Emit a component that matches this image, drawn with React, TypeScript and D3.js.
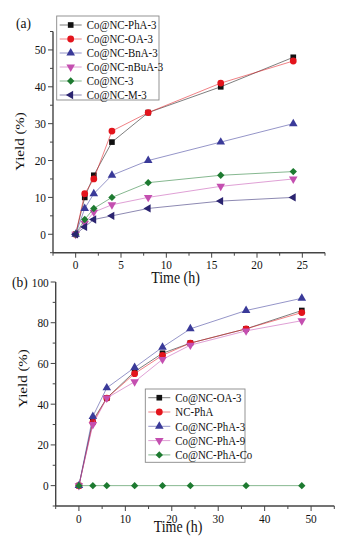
import { useRef, useEffect } from 'react';
import * as d3 from 'd3';

// panel (a): yield vs time for the amine-derived catalysts
const timesA = [0, 1, 2, 4, 8, 16, 24];
const namesA = ['Co@NC-PhA-3', 'Co@NC-OA-3', 'Co@NC-BnA-3', 'Co@NC-nBuA-3', 'Co@NC-3', 'Co@NC-M-3'];
const phA3 = [0, 10, 16, 25, 33, 40, 48];
const oa3 = [0, 11, 15, 28, 33, 41, 47];
const bnA3 = [0, 7, 11, 16, 20, 25, 30];
const nBuA3 = [0, 3, 6, 8, 10, 13, 15];
const nc3 = [0, 4, 7, 10, 14, 16, 17];
const m3 = [0, 2, 4, 5, 7, 9, 10];

// panel (b)
const timesB = [0, 3, 6, 12, 18, 24, 36, 48];
const namesB = ['Co@NC-OA-3', 'NC-PhA', 'Co@NC-PhA-3', 'Co@NC-PhA-9', 'Co@NC-PhA-Co'];
const oa3B = [0, 32, 43, 56, 65, 70, 77, 86];
const ncPhA = [0, 31, 43, 55, 64, 70, 77, 85];
const phA3B = [0, 34, 48, 58, 68, 77, 86, 92];
const phA9 = [0, 30, 43, 51, 62, 69, 76, 81];
const phACo = [0, 0, 0, 0, 0, 0, 0, 0];

const black = '#111111';
const red = '#e3141c';
const blue = '#3a3a99';
const magenta = '#c44fb0';
const green = '#1d7a30';
const navy = '#2b2470';

const FONT = '"Liberation Serif", "Times New Roman", serif';
const SX = 0.87;

function App() {
  const svgRef = useRef(null);
  const width = 351;
  const height = 547;

  useEffect(() => {
    const svg = d3.select(svgRef.current);
    svg.selectAll('*').remove();

    const txt = (g, x, y, s, size, anchor = 'start', rot = 0) =>
      g
        .append('text')
        .attr('transform', `translate(${x},${y}) rotate(${rot}) scale(${rot ? 1 : SX},${rot ? SX : 1})`)
        .attr('font-family', FONT)
        .attr('font-size', size)
        .attr('text-anchor', anchor)
        .attr('fill', '#111')
        .text(s);

    const symbols = {
      square: { type: d3.symbolSquare, size: 32, rot: 0 },
      circle: { type: d3.symbolCircle, size: 36, rot: 0 },
      up: { type: d3.symbolTriangle, size: 32, rot: 0 },
      down: { type: d3.symbolTriangle, size: 32, rot: 180 },
      diamond: { type: d3.symbolSquare, size: 27, rot: 45 },
      left: { type: d3.symbolTriangle, size: 30, rot: -90 },
    };

    const marker = (g, x, y, shape, color) => {
      const s = symbols[shape];
      g.append('path')
        .attr('d', d3.symbol().type(s.type).size(s.size)())
        .attr('transform', `translate(${x},${y}) rotate(${s.rot})`)
        .attr('fill', color);
    };

    function panel(cfg) {
      const { xDomain, xRange, yDomain, yRange, xMajor, xMinor, yMajor, yMinor, series, times, legend } = cfg;
      const x = d3.scaleLinear().domain(xDomain).range(xRange);
      const y = d3.scaleLinear().domain(yDomain).range(yRange);
      const g = svg.append('g');
      const axisColor = '#444';

      // axes
      g.append('line')
        .attr('x1', x(xDomain[0])).attr('x2', x(xDomain[1]))
        .attr('y1', y(yDomain[0])).attr('y2', y(yDomain[0]))
        .attr('stroke', axisColor).attr('stroke-width', 1.4);
      g.append('line')
        .attr('x1', x(xDomain[0])).attr('x2', x(xDomain[0]))
        .attr('y1', y(yDomain[0])).attr('y2', y(yDomain[1]))
        .attr('stroke', axisColor).attr('stroke-width', 1.4);

      const xTicks = d3.range(xDomain[0], xDomain[1] + 0.001, xMinor);
      xTicks.forEach((t) => {
        const major = Math.abs(t / xMajor - Math.round(t / xMajor)) < 1e-6;
        g.append('line')
          .attr('x1', x(t)).attr('x2', x(t))
          .attr('y1', y(yDomain[0])).attr('y2', y(yDomain[0]) + (major ? 5 : 3))
          .attr('stroke', axisColor).attr('stroke-width', 1);
        if (major && t >= 0) txt(g, x(t), y(yDomain[0]) + 16.5, String(t), 13, 'middle');
      });

      const yTicks = d3.range(yDomain[0], yDomain[1] + 0.001, yMinor);
      yTicks.forEach((t) => {
        const major = Math.abs(t / yMajor - Math.round(t / yMajor)) < 1e-6;
        g.append('line')
          .attr('x1', x(xDomain[0])).attr('x2', x(xDomain[0]) - (major ? 5 : 3))
          .attr('y1', y(t)).attr('y2', y(t))
          .attr('stroke', axisColor).attr('stroke-width', 1);
        if (major && t >= 0) txt(g, x(xDomain[0]) - 7, y(t) + 4.5, String(t), 13, 'end');
      });

      // series
      const line = d3.line().x((d) => x(d[0])).y((d) => y(d[1]));
      series.forEach((s) => {
        const pts = times.map((t, i) => [t, s.values[i]]);
        g.append('path')
          .attr('d', line(pts))
          .attr('fill', 'none')
          .attr('stroke', s.color)
          .attr('stroke-opacity', 0.6)
          .attr('stroke-width', 0.9);
        pts.forEach((p) => marker(g, x(p[0]), y(p[1]), s.shape, s.color));
      });

      // legend
      g.append('rect')
        .attr('x', legend.x).attr('y', legend.y)
        .attr('width', legend.w).attr('height', legend.h)
        .attr('fill', 'white').attr('stroke', '#888').attr('stroke-width', 0.9);
      series.forEach((s, i) => {
        const ly = legend.y + legend.first + i * legend.step;
        g.append('line')
          .attr('x1', legend.x + 3).attr('x2', legend.x + 25)
          .attr('y1', ly).attr('y2', ly)
          .attr('stroke', s.color).attr('stroke-opacity', 0.6).attr('stroke-width', 0.9);
        marker(g, legend.x + 14, ly, s.shape, s.color);
        txt(g, legend.x + 30, ly + 4.3, s.name, 12.5, 'start');
      });
      return { x, y };
    }

    const seriesA = [phA3, oa3, bnA3, nBuA3, nc3, m3];
    const colorsA = [black, red, blue, magenta, green, navy];
    const shapesA = ['square', 'circle', 'up', 'down', 'diamond', 'left'];
    panel({
      xDomain: [-2.5, 27.5], xRange: [53, 325],
      yDomain: [-5, 55], yRange: [252.7, 31.5],
      xMajor: 5, xMinor: 2.5, yMajor: 10, yMinor: 5,
      times: timesA,
      series: seriesA.map((v, i) => ({ values: v, name: namesA[i], color: colorsA[i], shape: shapesA[i] })),
      legend: { x: 56.7, y: 16, w: 102.3, h: 84, first: 9, step: 14 },
    });

    const seriesB = [oa3B, ncPhA, phA3B, phA9, phACo];
    const colorsB = [black, red, blue, magenta, green];
    const shapesB = ['square', 'circle', 'up', 'down', 'diamond'];
    panel({
      xDomain: [-5, 55], xRange: [55.7, 334.3],
      yDomain: [-10, 100], yRange: [506, 282],
      xMajor: 10, xMinor: 5, yMajor: 20, yMinor: 10,
      times: timesB,
      series: seriesB.map((v, i) => ({ values: v, name: namesB[i], color: colorsB[i], shape: shapesB[i] })),
      legend: { x: 145.3, y: 389, w: 99.7, h: 73.3, first: 8.7, step: 14.3 },
    });

    // titles and axis labels
    txt(svg, 16, 28, '(a)', 15.5);
    txt(svg, 12, 286.5, '(b)', 15.5);
    txt(svg, 175.5, 283, 'Time (h)', 16, 'middle');
    txt(svg, 178, 532, 'Time (h)', 16, 'middle');
    txt(svg, 24, 141.5, 'Yield (%)', 15, 'middle', -90);
    txt(svg, 27, 378.5, 'Yield (%)', 15, 'middle', -90);
  }, []);

  return <svg ref={svgRef} width={width} height={height} style={{ display: 'block', margin: -8 }}></svg>;
}

export default App;
